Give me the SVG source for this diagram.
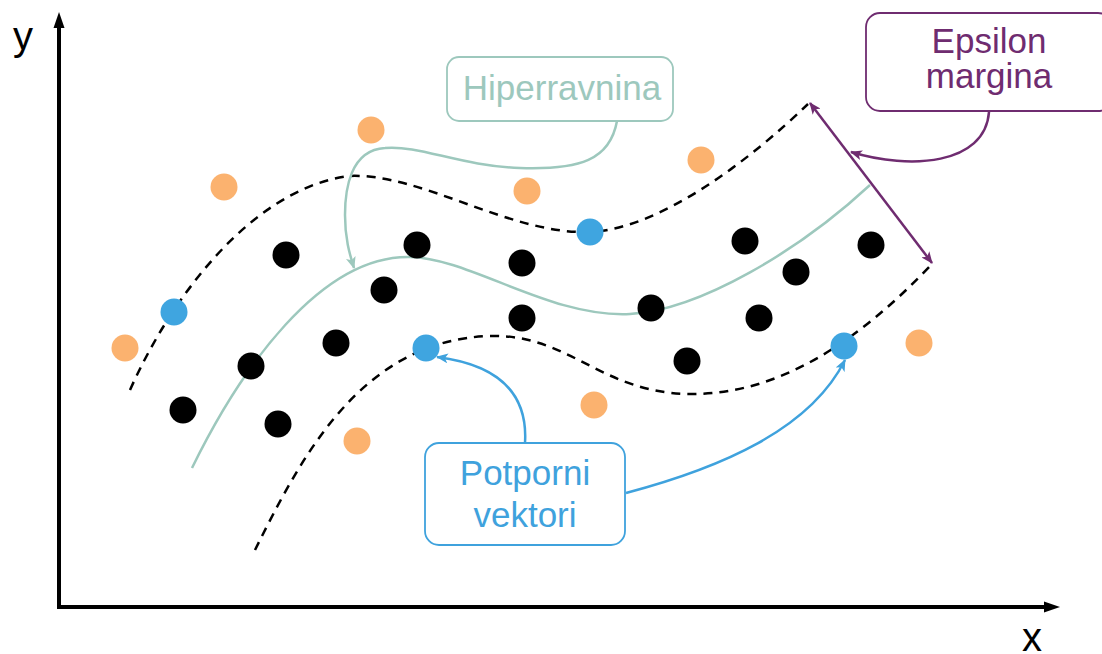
<svg xmlns="http://www.w3.org/2000/svg" width="1102" height="654" viewBox="0 0 1102 654">
<style>
.lbl{font-family:"Liberation Sans",Arial,sans-serif;font-size:35px;text-anchor:middle}
.ax{font-family:"Liberation Sans",Arial,sans-serif;font-size:40px;text-anchor:middle;fill:#000}
.dash{fill:none;stroke:#000;stroke-width:2.5;stroke-dasharray:9 7}
.hyp{fill:none;stroke:#9dc8bd;stroke-width:2.5}
.o{fill:#fbb26f}
.b{fill:#3fa5e0}
.k{fill:#000}
</style>
<defs>
<marker id="mT" viewBox="0 0 12 10" refX="11" refY="5" markerWidth="12" markerHeight="10" markerUnits="userSpaceOnUse" orient="auto"><path d="M0,0 L12,5 L0,10 L3,5 z" fill="#9dc8bd"/></marker>
<marker id="mB" viewBox="0 0 12 10" refX="11" refY="5" markerWidth="12" markerHeight="10" markerUnits="userSpaceOnUse" orient="auto"><path d="M0,0 L12,5 L0,10 L3,5 z" fill="#3fa2dd"/></marker>
<marker id="mP" viewBox="0 0 12 10" refX="11" refY="5" markerWidth="12" markerHeight="10" markerUnits="userSpaceOnUse" orient="auto-start-reverse"><path d="M0,0 L12,5 L0,10 L3,5 z" fill="#6f2c70"/></marker>
</defs>
<g id="axes">
<line x1="59" y1="609" x2="59" y2="26" stroke="#000" stroke-width="4"/>
<polygon points="59,12 53.5,28 64.5,28" fill="#000"/>
<line x1="57" y1="607" x2="1046" y2="607" stroke="#000" stroke-width="4"/>
<polygon points="1060,607 1044,601.5 1044,612.5" fill="#000"/>
<text class="ax" x="23" y="50">y</text>
<text class="ax" x="1032" y="651">x</text>
</g>
<g id="curves">
<path class="dash" d="M130,390 C170,300 250,190 348,176 C420,172 510,235 590,232 C660,229 750,160 808,104"/>
<path class="hyp" d="M192,468 C240,370 320,255 410,257 C470,258 550,318 630,314 C700,310 800,250 870,185"/>
<path class="dash" d="M255,550 C300,460 360,340 490,336 C570,334 600,393 690,394 C780,395 860,340 932,264"/>
</g>
<g id="points">
<circle class="o" cx="371" cy="130" r="13.5"/>
<circle class="o" cx="224" cy="187" r="13.5"/>
<circle class="o" cx="527" cy="191" r="13.5"/>
<circle class="o" cx="701" cy="160" r="13.5"/>
<circle class="o" cx="125" cy="348" r="13.5"/>
<circle class="o" cx="357" cy="441" r="13.5"/>
<circle class="o" cx="594" cy="405" r="13.5"/>
<circle class="o" cx="919" cy="343" r="13.5"/>
<circle class="b" cx="174" cy="312" r="13.5"/>
<circle class="b" cx="590" cy="232" r="13.5"/>
<circle class="b" cx="426" cy="348" r="13.5"/>
<circle class="b" cx="844" cy="346" r="13.5"/>
<circle class="k" cx="286" cy="255" r="13.5"/>
<circle class="k" cx="417" cy="245" r="13.5"/>
<circle class="k" cx="522" cy="263" r="13.5"/>
<circle class="k" cx="384" cy="290" r="13.5"/>
<circle class="k" cx="522" cy="318" r="13.5"/>
<circle class="k" cx="651" cy="308" r="13.5"/>
<circle class="k" cx="745" cy="241" r="13.5"/>
<circle class="k" cx="796" cy="272" r="13.5"/>
<circle class="k" cx="871" cy="245" r="13.5"/>
<circle class="k" cx="759" cy="318" r="13.5"/>
<circle class="k" cx="687" cy="361" r="13.5"/>
<circle class="k" cx="336" cy="343" r="13.5"/>
<circle class="k" cx="251" cy="366" r="13.5"/>
<circle class="k" cx="183" cy="410" r="13.5"/>
<circle class="k" cx="278" cy="424" r="13.5"/>
</g>
<g id="connectors">
<path d="M617,121 C610,160 580,170 520,168 C460,166 420,145 385,148 C350,150 345,190 345,215 C345,240 350,255 354,268" fill="none" stroke="#9dc8bd" stroke-width="2.5" marker-end="url(#mT)"/>
<path d="M525,443 C528,395 500,365 437,357" fill="none" stroke="#3fa2dd" stroke-width="2.5" marker-end="url(#mB)"/>
<path d="M626,493 C720,468 810,430 845,360" fill="none" stroke="#3fa2dd" stroke-width="2.5" marker-end="url(#mB)"/>
<path d="M989,112 C985,165 910,170 851,152" fill="none" stroke="#6f2c70" stroke-width="2.5" marker-end="url(#mP)"/>
<line x1="810" y1="103" x2="932" y2="263" stroke="#6f2c70" stroke-width="2.5" marker-start="url(#mP)" marker-end="url(#mP)"/>
</g>
<g id="hiperravnina">
<rect x="447" y="57" width="226" height="64" rx="12" fill="#fff" stroke="#9dc8bd" stroke-width="1.8"/>
<text class="lbl" x="562" y="100" fill="#9dc8bd">Hiperravnina</text>
</g>
<g id="epsilon">
<rect x="866" y="13" width="246" height="98" rx="14" fill="#fff" stroke="#6f2c70" stroke-width="1.8"/>
<text class="lbl" x="989" y="53" fill="#6f2c70">Epsilon</text>
<text class="lbl" x="989" y="88" fill="#6f2c70">margina</text>
</g>
<g id="potporni">
<rect x="425" y="443" width="200" height="102" rx="14" fill="#fff" stroke="#3fa2dd" stroke-width="1.8"/>
<text class="lbl" x="525" y="485" fill="#3fa2dd">Potporni</text>
<text class="lbl" x="525" y="527" fill="#3fa2dd">vektori</text>
</g>
</svg>
